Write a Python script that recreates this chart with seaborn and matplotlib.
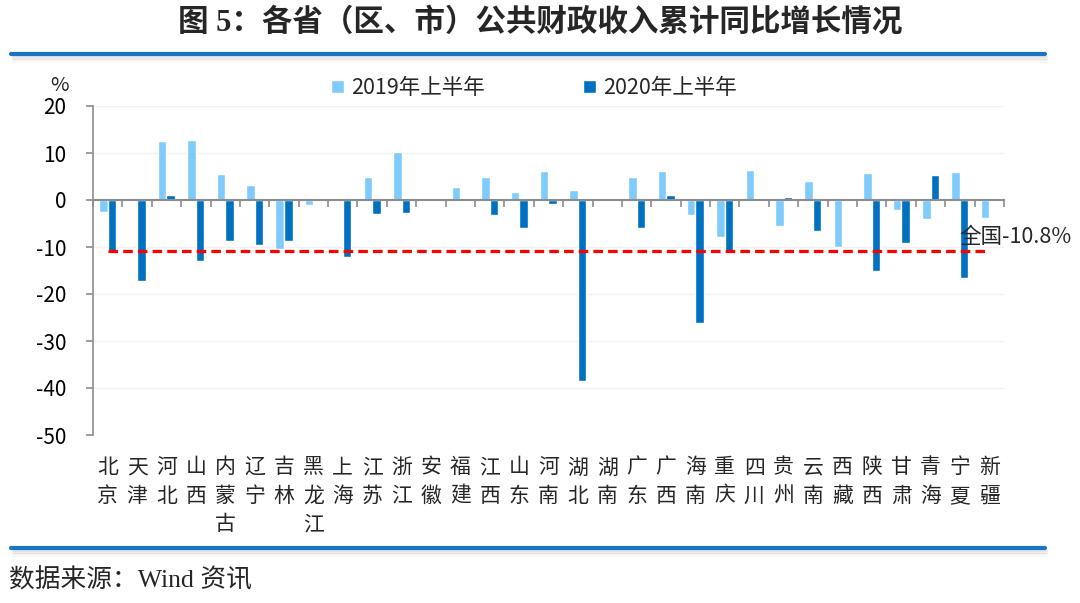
import numpy as np
import pandas as pd
import matplotlib
matplotlib.use("Agg")
import matplotlib.pyplot as plt
from matplotlib.lines import Line2D
import matplotlib.transforms as mtransforms
import seaborn as sns

provinces = ["北京", "天津", "河北", "山西", "内蒙古", "辽宁", "吉林", "黑龙江", "上海", "江苏",
             "浙江", "安徽", "福建", "江西", "山东", "河南", "湖北", "湖南", "广东", "广西",
             "海南", "重庆", "四川", "贵州", "云南", "西藏", "陕西", "甘肃", "青海", "宁夏", "新疆"]
h1_2019 = [-2.6, 0.3, 12.6, 12.8, 5.6, 3.2, -10.5, -1.0, 0.0, 4.9,
           10.2, 0.0, 2.8, 4.9, 1.8, 6.2, 2.1, 0.1, 4.9, 6.2,
           -3.2, -7.9, 6.4, -5.5, 4.0, -9.9, 5.8, -2.1, -4.0, 6.0, -3.9]
h1_2020 = [-10.8, -17.2, 1.1, -13.0, -8.8, -9.6, -8.8, 0.0, -12.2, -2.9,
           -2.7, 0.0, 0.0, -3.2, -6.0, -0.8, -38.6, 0.0, -6.0, 1.1,
           -26.2, -11.2, 0.0, 0.6, -6.5, 0.0, -15.0, -9.1, 5.3, -16.7, 0.0]
series_names = ["2019年上半年", "2020年上半年"]
national = -10.8
national_label = "全国-10.8%"
yticks = [20, 10, 0, -10, -20, -30, -40, -50]
title = "图 5：各省（区、市）公共财政收入累计同比增长情况"
source = "数据来源：Wind 资讯"

df = pd.DataFrame({
    "省份": provinces * 2,
    "值": h1_2019 + h1_2020,
    "期间": [series_names[0]] * len(provinces) + [series_names[1]] * len(provinces),
})

sns.set_theme(style="white")
plt.rcParams["font.family"] = ["Noto Sans CJK SC", "DejaVu Sans"]
plt.rcParams["axes.unicode_minus"] = False
serif = ["Liberation Serif", "Noto Sans CJK SC", "DejaVu Sans"]

fig = plt.figure(figsize=(10.8, 6.03), dpi=100)
ax = fig.add_axes([0.0861, 1 - 435 / 603, 0.8435, (435 - 106) / 603])

light = "#7FCBFD"
dark = "#0070C0"
sns.barplot(data=df, x="省份", y="值", hue="期间", palette=[light, dark],
            width=0.58, ax=ax, legend=True, saturation=1)

ax.set_ylim(-50, 20)
ax.set_xlim(-0.5, len(provinces) - 0.5)
ax.set_yticks(yticks)
ax.set_yticklabels([str(t) for t in yticks], fontsize=15)
ax.set_ylabel("")
ax.set_xlabel("")
for y in yticks:
    ax.axhline(y, color="#F2F2F2", lw=1, zorder=0)

for s in ["top", "right"]:
    ax.spines[s].set_visible(False)
ax.spines["left"].set_color("#8C8C8C")
ax.spines["left"].set_linewidth(1.2)
ax.spines["bottom"].set_position(("data", 0))
ax.spines["bottom"].set_color("#8C8C8C")
ax.spines["bottom"].set_linewidth(1.5)
ax.spines["bottom"].set_zorder(5)

ax.tick_params(axis="y", direction="out", length=5, width=1.2, color="#8C8C8C",
               left=True, pad=14, labelcolor="black")
ax.set_xticks(range(len(provinces)))
ax.set_xticklabels([])
ax.tick_params(axis="x", which="major", length=0)
ax.set_xticks(np.arange(-0.5, len(provinces)), minor=True)
ax.tick_params(axis="x", which="minor", direction="out", length=5, width=1.2,
               color="#8C8C8C", bottom=True)

trans = mtransforms.blended_transform_factory(ax.transData, ax.transAxes)
for i, name in enumerate(provinces):
    ax.text(i, -0.065, "\n".join(name), transform=trans, ha="center", va="top",
            fontsize=15, linespacing=1.38)

ax.hlines(national, 0, len(provinces) - 1, colors="#FF0000", linestyles=(0, (3, 1.6)),
          lw=2.3, zorder=6)
ax.text(len(provinces) - 2, national + 0.5, national_label, ha="left", va="bottom",
        fontsize=15.5, zorder=7)

ax.text(-0.027, 1.03, "%", transform=ax.transAxes, ha="right", va="bottom", fontsize=14.5)

leg = ax.legend(loc="lower center", bbox_to_anchor=(0.484, 0.975), ncol=2, frameon=False,
                fontsize=15.5, handlelength=0.6, handleheight=0.6, handletextpad=0.3,
                columnspacing=4.6, borderaxespad=0.3)

fig.text(0.5, 1 - 23 / 603, title, ha="center", va="center", fontsize=22,
         fontweight="bold", family=serif)
fig.text(0.008, 1 - 580 / 603, source, ha="left", va="center", fontsize=18.5, family=serif)

for ypix in (54, 548):
    yf = 1 - ypix / 603
    for k, a in enumerate([0.22, 0.15, 0.09, 0.05]):
        fig.add_artist(Line2D([0.012, 0.969], [yf - (3 + 1.5 * k) / 603] * 2,
                              color="#808080", lw=1.3, alpha=a))
    fig.add_artist(Line2D([0.010, 0.968], [yf, yf], color="#1874C4", lw=3))

fig.savefig("out.png", dpi=100)
